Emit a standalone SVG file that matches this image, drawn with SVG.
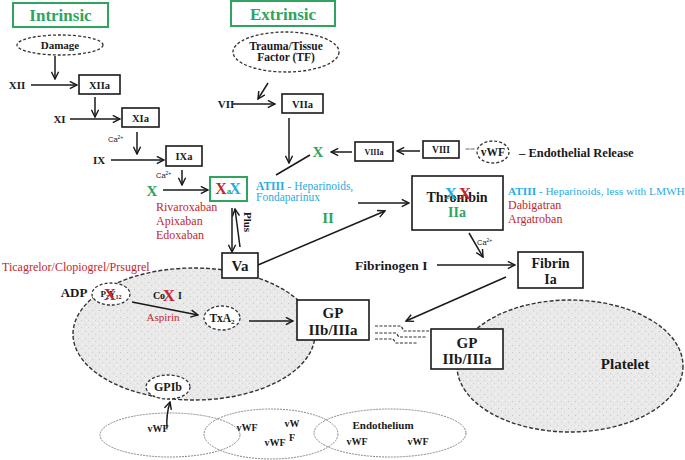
<svg xmlns="http://www.w3.org/2000/svg" width="685" height="460" viewBox="0 0 685 460">
<defs>
<style>
.b{font-family:"Liberation Serif","Times New Roman",serif;font-weight:bold;fill:#1a1a1a}
.m{text-anchor:middle}
.r{font-family:"Liberation Serif","Times New Roman",serif;fill:#c1272d}
.rx{font-family:"Liberation Serif","Times New Roman",serif;font-weight:bold;fill:#c1272d}
.cy{font-family:"Liberation Serif","Times New Roman",serif;fill:#29abe2}
.cx{font-family:"Liberation Serif","Times New Roman",serif;font-weight:bold;fill:#29abe2}
.g{font-family:"Liberation Serif","Times New Roman",serif;font-weight:bold;fill:#2ea45e}
.box{fill:#fff;stroke:#1a1a1a;stroke-width:1.6}
.gbox{fill:#fff;stroke:#2ea45e;stroke-width:2}
.ln{fill:none;stroke:#1a1a1a;stroke-width:1.5}
.ar{marker-end:url(#ah)}
.dash{fill:#fff;stroke:#333;stroke-width:1.3;stroke-dasharray:3 2}
.plt{fill:url(#speck);stroke:#333;stroke-width:1.4;stroke-dasharray:4 2}
.endo{fill:none;stroke:#888;stroke-width:1;stroke-dasharray:2 1}
.gd{fill:none;stroke:#333;stroke-width:1.2;stroke-dasharray:3 1.5}
</style>
<marker id="ah" viewBox="0 0 10 10" refX="9" refY="5" markerWidth="9" markerHeight="9" orient="auto" markerUnits="userSpaceOnUse">
<path d="M1,1 L9,5 L1,9" fill="none" stroke="#1a1a1a" stroke-width="1.6"/>
</marker>
<pattern id="speck" width="7" height="7" patternUnits="userSpaceOnUse">
<rect width="7" height="7" fill="#e9e9e9"/>
<rect x="1" y="2" width="1" height="1" fill="#c8c8c8"/>
<rect x="4" y="5" width="1" height="1" fill="#cfcfcf"/>
<rect x="5" y="1" width="1" height="1" fill="#f8f8f8"/>
<rect x="2" y="5" width="1" height="1" fill="#f6f6f6"/>
</pattern>
</defs>
<rect width="685" height="460" fill="#fff"/>

<!-- platelets and endothelium background -->
<g id="platelet-left"><ellipse cx="194" cy="334" rx="121" ry="66" class="plt"/></g>
<g id="platelet-right"><ellipse cx="570" cy="366" rx="113" ry="66" class="plt"/><text x="625" y="369" class="b m" font-size="15">Platelet</text></g>
<g id="endothelium">
<ellipse cx="170" cy="435" rx="70" ry="22" class="endo"/>
<ellipse cx="271" cy="434" rx="67" ry="25" class="endo"/>
<ellipse cx="390" cy="433" rx="76" ry="24" class="endo"/>
<text x="158" y="432" class="b m" font-size="10">vWF</text>
<text x="247" y="431" class="b m" font-size="10">vWF</text>
<text x="292" y="427" class="b m" font-size="10">vW</text>
<text x="292" y="441" class="b m" font-size="10">F</text>
<text x="275" y="446" class="b m" font-size="10">vWF</text>
<text x="383" y="429" class="b m" font-size="11">Endothelium</text>
<text x="357" y="445" class="b m" font-size="10">vWF</text>
<text x="418" y="445" class="b m" font-size="10">vWF</text>
</g>

<!-- connectors -->
<g id="connectors">
<path class="ln ar" d="M55,56 V79"/>
<path class="ln ar" d="M31,85 H77"/>
<path class="ln ar" d="M95,97 V117"/>
<path class="ln ar" d="M70,119 H120"/>
<path class="ln ar" d="M137,132 V154"/>
<path class="ln ar" d="M111,160 H164"/>
<path class="ln ar" d="M182,170 V185"/>
<path class="ln ar" d="M163,190 H208"/>
<path class="ln ar" d="M268,83 L258,99"/>
<path class="ln ar" d="M233,104 H275"/>
<path class="ln ar" d="M289,118 V163"/>
<path class="ln" d="M276,175 L310,155"/>
<path class="ln ar" d="M352,152 H331"/>
<path class="ln ar" d="M420,151 H397"/>
<path class="ln ar" d="M232,208 V252"/>
<path class="ln ar" d="M240,247 L235,209"/>
<path class="ln ar" d="M258,265 L385,211"/>
<path class="ln ar" d="M358,203 H409"/>
<path class="ln ar" d="M469,233 L483,257"/>
<path class="ln ar" d="M437,265 H515"/>
<path class="ln ar" d="M506,277 L406,321"/>
<path class="ln ar" d="M132,302 L198,315"/>
<path class="ln ar" d="M249,321 H293"/>
<path class="ln ar" d="M167,428 Q166,415 170,402"/>
<path class="gd" d="M375,326 H401 L404,331 H431"/>
<path class="gd" d="M375,333 H396 L399,337 H427"/>
<path class="gd" d="M375,339 H393 L396,343 H418"/>
<text x="470" y="152" font-family="Liberation Serif,serif" font-size="9" fill="#777" text-anchor="middle">==</text>
</g>

<g id="intrinsic"><rect x="13" y="3" width="95" height="24" class="gbox"/><text x="60.5" y="21" class="g m" font-size="17">Intrinsic</text></g>
<g id="extrinsic"><rect x="231" y="1" width="104" height="25" class="gbox"/><text x="283" y="19.5" class="g m" font-size="17">Extrinsic</text></g>
<g id="damage"><ellipse cx="60" cy="45" rx="43" ry="10" class="dash"/><text x="60" y="49" class="b m" font-size="11">Damage</text></g>
<g id="xii"><text x="17" y="89" class="b m" font-size="11">XII</text></g>
<g id="xiia"><rect x="79" y="75" width="41" height="19" class="box"/><text x="99.5" y="88.5" class="b m" font-size="10.5">XIIa</text></g>
<g id="xi"><text x="59.5" y="123" class="b m" font-size="11">XI</text></g>
<g id="xia"><rect x="122" y="108" width="37" height="19" class="box"/><text x="140.5" y="121.5" class="b m" font-size="10.5">XIa</text></g>
<g id="ca1"><text x="108" y="142" font-family="Liberation Sans,Arial,sans-serif" font-size="7.5" fill="#1a1a1a">Ca<tspan font-size="5" dy="-3">2+</tspan></text></g>
<g id="ix"><text x="99" y="164" class="b m" font-size="11">IX</text></g>
<g id="ixa"><rect x="166" y="146" width="36" height="20" class="box"/><text x="184" y="160" class="b m" font-size="10.5">IXa</text></g>
<g id="ca2"><text x="156" y="178" font-family="Liberation Sans,Arial,sans-serif" font-size="7.5" fill="#1a1a1a">Ca<tspan font-size="5" dy="-3">2+</tspan></text></g>
<g id="x-left"><text x="152" y="196" class="g m" font-size="15">X</text></g>
<g id="xa"><rect x="210" y="177" width="37" height="24" class="gbox"/>
<text x="221" y="194" class="rx m" font-size="16">X</text>
<text x="229" y="194" class="g m" font-size="9">a</text>
<text x="235" y="194" class="cx m" font-size="16">X</text></g>
<g id="trauma"><ellipse cx="286" cy="52" rx="53" ry="20" class="dash"/>
<text x="286" y="50" class="b m" font-size="11.5">Trauma/Tissue</text>
<text x="286" y="61" class="b m" font-size="11.5">Factor (TF)</text></g>
<g id="vii"><text x="226" y="108" class="b m" font-size="11">VII</text></g>
<g id="viia"><rect x="282" y="94" width="41" height="19" class="box"/><text x="302.5" y="107.5" class="b m" font-size="10.5">VIIa</text></g>
<g id="x-right"><text x="318" y="157" class="g m" font-size="15">X</text></g>
<g id="viiia"><rect x="355" y="142" width="38" height="19" class="box"/><text x="374" y="155" class="b m" font-size="8">VIIIa</text></g>
<g id="viii"><rect x="423" y="141" width="36" height="17" class="box"/><text x="441" y="153" class="b m" font-size="9.5">VIII</text></g>
<g id="vwf-top"><ellipse cx="493" cy="152" rx="16" ry="11" class="dash"/><text x="493" y="156" class="b m" font-size="11.5">vWF</text>
<text x="519" y="157" class="b" font-size="12.5">– Endothelial  Release</text></g>
<g id="atiii-xa"><text x="256" y="190" class="cy" font-size="11.5"><tspan font-weight="bold">ATIII</tspan> - Heparinoids,</text>
<text x="256" y="201" class="cy" font-size="11.5">Fondaparinux</text></g>
<g id="xa-drugs"><text x="156" y="211" class="r" font-size="12">Rivaroxaban</text>
<text x="156" y="225" class="r" font-size="12">Apixaban</text>
<text x="156" y="239" class="r" font-size="12">Edoxaban</text></g>
<g id="plus"><text x="248" y="226" class="b m" font-size="11" transform="rotate(90 248 222)">Plus</text></g>
<g id="va"><rect x="222" y="253" width="36" height="25" class="box"/><text x="240" y="271" class="b m" font-size="15">Va</text></g>
<g id="p2y12-drugs"><text x="2" y="271" class="r" font-size="12">Ticagrelor/Clopiogrel/Prsugrel</text></g>
<g id="ii"><text x="328" y="223" class="g m" font-size="15">II</text></g>
<g id="thrombin"><rect x="412" y="176" width="91" height="54" class="box"/>
<text x="457" y="202" class="b m" font-size="14">Thrombin</text>
<text x="451" y="199" class="cx m" font-size="17">X</text>
<text x="465" y="199" class="rx m" font-size="17">X</text>
<text x="457" y="217" class="g m" font-size="14">IIa</text></g>
<g id="thrombin-drugs"><text x="508" y="195" class="cy" font-size="11.3"><tspan font-weight="bold">ATIII</tspan> - Heparinoids, less with LMWH</text>
<text x="508" y="209" class="r" font-size="12">Dabigatran</text>
<text x="508" y="223" class="r" font-size="12">Argatroban</text></g>
<g id="ca3"><text x="477" y="245" font-family="Liberation Sans,Arial,sans-serif" font-size="7.5" fill="#1a1a1a">Ca<tspan font-size="5" dy="-3">2+</tspan></text></g>
<g id="fibrinogen"><text x="355" y="270" class="b" font-size="13.5">Fibrinogen  I</text></g>
<g id="fibrin"><rect x="518" y="252" width="65" height="36" class="box"/>
<text x="550.5" y="268" class="b m" font-size="14">Fibrin</text>
<text x="550.5" y="284" class="b m" font-size="14">Ia</text></g>
<g id="gp-left"><rect x="297" y="300" width="72" height="40" class="box"/>
<text x="333" y="318" class="b m" font-size="15">GP</text>
<text x="333" y="335" class="b m" font-size="15">IIb/IIIa</text></g>
<g id="gp-right"><rect x="431" y="329" width="72" height="40" class="box"/>
<text x="467" y="348" class="b m" font-size="15">GP</text>
<text x="467" y="364" class="b m" font-size="15">IIb/IIIa</text></g>
<g id="adp"><text x="74" y="297" class="b m" font-size="13">ADP</text></g>
<g id="p2y12"><ellipse cx="111" cy="294" rx="19" ry="11" class="dash"/>
<text x="111" y="297" class="b m" font-size="9">P<tspan font-size="6" dy="2">2</tspan><tspan dy="-2">Y</tspan><tspan font-size="6" dy="2">12</tspan></text>
<text x="110" y="300" class="rx m" font-size="17">X</text></g>
<g id="cox"><text x="159" y="299" class="b m" font-size="10">Co</text>
<text x="169" y="301" class="rx m" font-size="17">X</text>
<text x="180" y="299" class="b m" font-size="10">I</text>
<text x="163" y="321" class="r m" font-size="11">Aspirin</text></g>
<g id="txa2"><ellipse cx="222" cy="318" rx="18" ry="12" class="dash"/>
<text x="222" y="322" class="b m" font-size="11.5">TxA<tspan font-size="7" dy="2">2</tspan></text></g>
<g id="gpib"><ellipse cx="168" cy="387" rx="22" ry="12" class="dash"/>
<text x="168" y="391" class="b m" font-size="12">GPIb</text></g>
</svg>
